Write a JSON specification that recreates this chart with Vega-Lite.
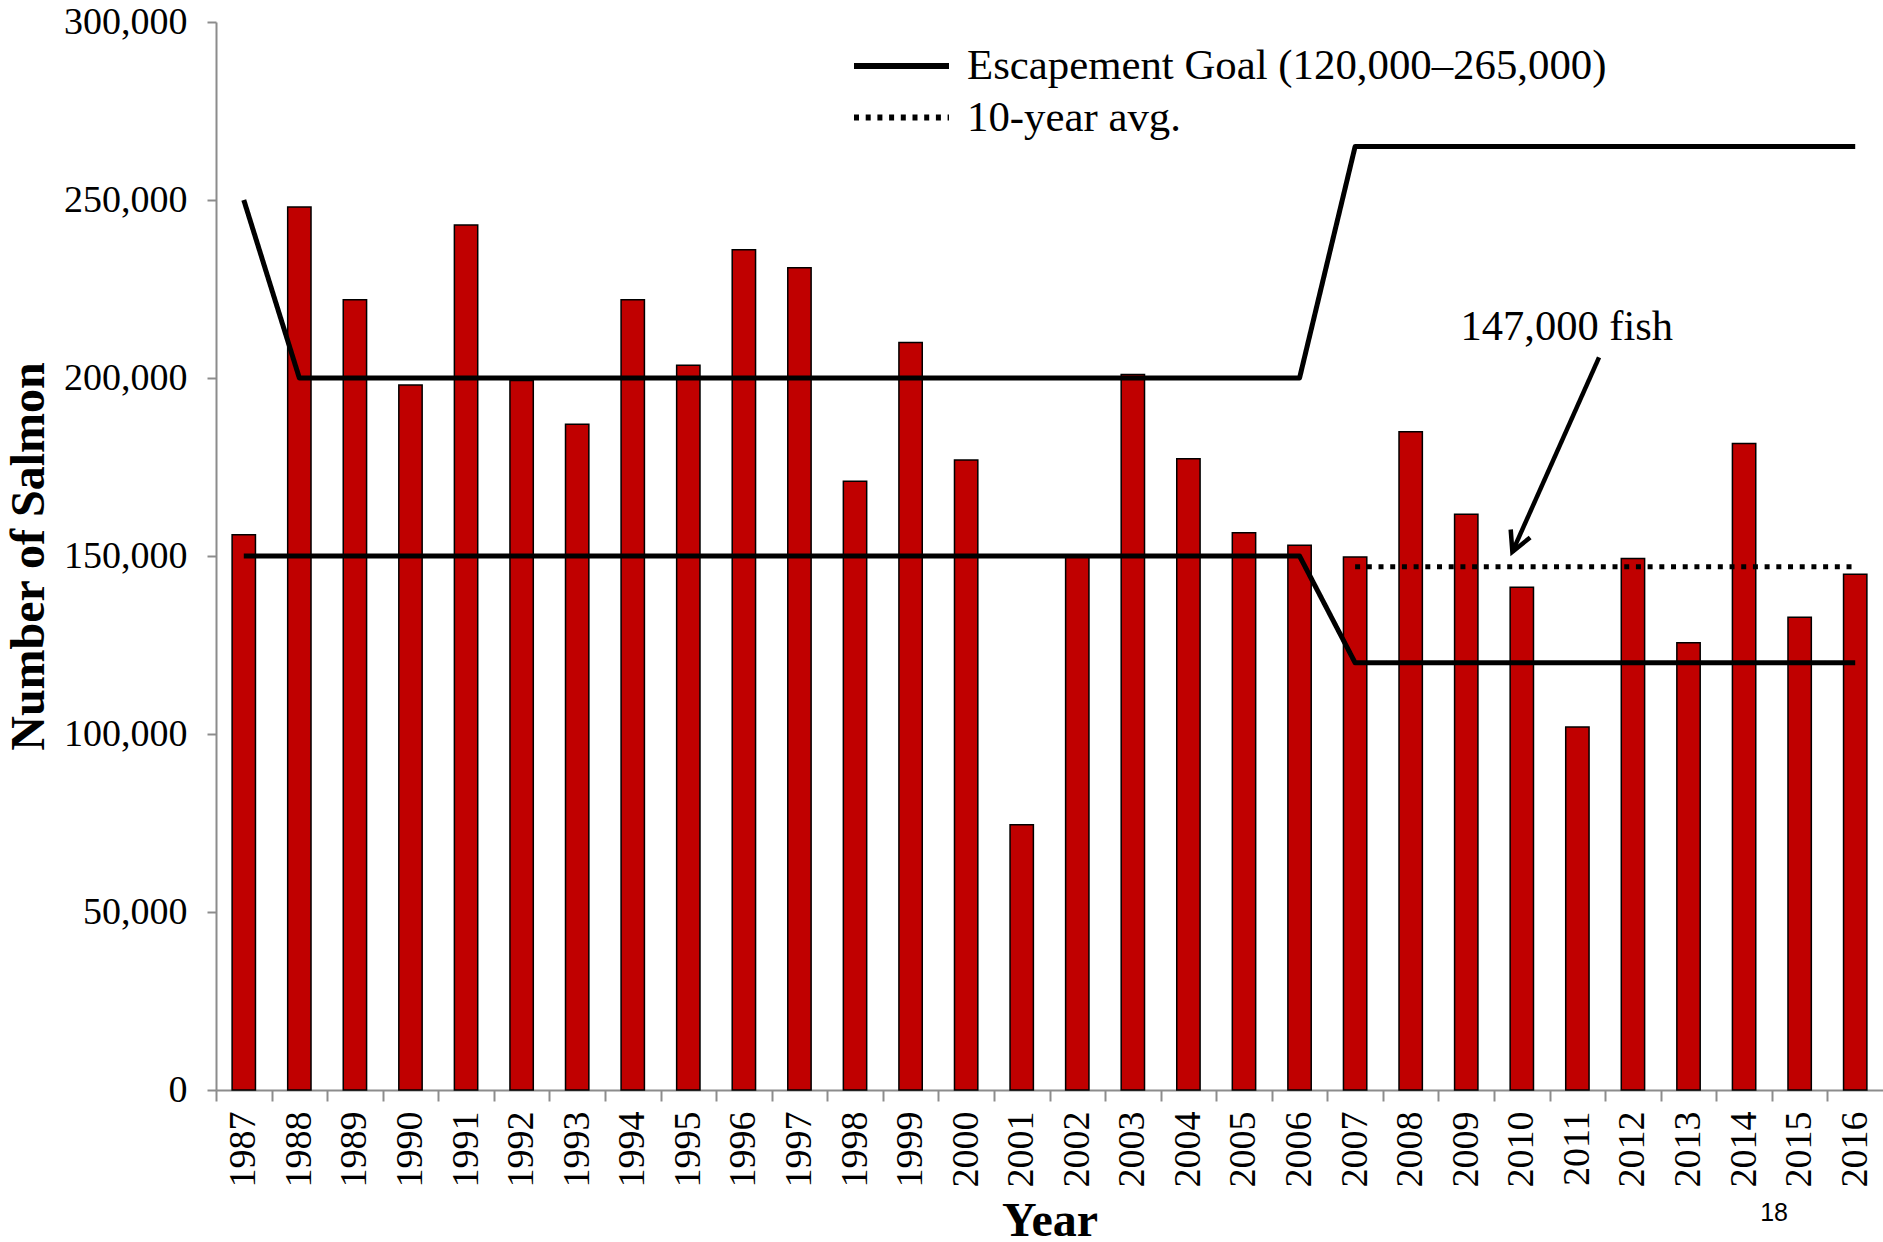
{
  "$schema": "https://vega.github.io/schema/vega-lite/v6.json",
  "width": 1667,
  "height": 1068,
  "autosize": {"type": "none"},
  "padding": {"left": 216, "top": 22, "right": 0, "bottom": 152},
  "background": "white",
  "config": {
    "view": {"stroke": null},
    "font": "Liberation Serif",
    "legend": {
      "orient": "none",
      "padding": 0,
      "symbolType": "stroke",
      "symbolSize": 9025,
      "symbolStrokeWidth": 6,
      "symbolStrokeColor": "black",
      "labelFont": "Liberation Serif",
      "labelFontSize": 42.8,
      "labelColor": "black",
      "labelOffset": 15,
      "labelLimit": 0
    }
  },
  "datasets": {
    "salmon": [
      {"year": 1987, "value": 156000},
      {"year": 1988, "value": 248000},
      {"year": 1989, "value": 222000},
      {"year": 1990, "value": 198000},
      {"year": 1991, "value": 243000},
      {"year": 1992, "value": 199300},
      {"year": 1993, "value": 187000},
      {"year": 1994, "value": 222000},
      {"year": 1995, "value": 203600},
      {"year": 1996, "value": 236000},
      {"year": 1997, "value": 231000},
      {"year": 1998, "value": 171000},
      {"year": 1999, "value": 210000},
      {"year": 2000, "value": 177000},
      {"year": 2001, "value": 74500},
      {"year": 2002, "value": 150000},
      {"year": 2003, "value": 201000},
      {"year": 2004, "value": 177300},
      {"year": 2005, "value": 156500},
      {"year": 2006, "value": 153000},
      {"year": 2007, "value": 149700},
      {"year": 2008, "value": 184900},
      {"year": 2009, "value": 161700},
      {"year": 2010, "value": 141200},
      {"year": 2011, "value": 102000},
      {"year": 2012, "value": 149300},
      {"year": 2013, "value": 125600},
      {"year": 2014, "value": 181600},
      {"year": 2015, "value": 132800},
      {"year": 2016, "value": 144900}
    ],
    "goals": [
      {"year": 1987, "value": 250000, "line": "upper", "series": "Escapement Goal (120,000–265,000)"},
      {"year": 1988, "value": 200000, "line": "upper", "series": "Escapement Goal (120,000–265,000)"},
      {"year": 2006, "value": 200000, "line": "upper", "series": "Escapement Goal (120,000–265,000)"},
      {"year": 2007, "value": 265000, "line": "upper", "series": "Escapement Goal (120,000–265,000)"},
      {"year": 2016, "value": 265000, "line": "upper", "series": "Escapement Goal (120,000–265,000)"},
      {"year": 1987, "value": 150000, "line": "lower", "series": "Escapement Goal (120,000–265,000)"},
      {"year": 2006, "value": 150000, "line": "lower", "series": "Escapement Goal (120,000–265,000)"},
      {"year": 2007, "value": 120000, "line": "lower", "series": "Escapement Goal (120,000–265,000)"},
      {"year": 2016, "value": 120000, "line": "lower", "series": "Escapement Goal (120,000–265,000)"}
    ],
    "average": [
      {"year": 2007, "value": 147000, "series": "10-year avg."},
      {"year": 2016, "value": 147000, "series": "10-year avg."}
    ],
    "arrow": [
      {"part": "shaft", "order": 0, "x": 2011.39, "value": 205800},
      {"part": "shaft", "order": 1, "x": 2009.83, "value": 151150},
      {"part": "head", "order": 0, "x": 2009.80, "value": 157450},
      {"part": "head", "order": 1, "x": 2009.83, "value": 151150},
      {"part": "head", "order": 2, "x": 2010.15, "value": 155200}
    ],
    "notes": [
      {"label": "147,000 fish", "x": 2010.81, "value": 214250}
    ],
    "page": [
      {"label": "18", "x": 2014.54, "value": -34500}
    ]
  },
  "layer": [
    {
      "data": {"name": "salmon"},
      "mark": {"type": "bar", "color": "#C00000", "stroke": "black", "strokeWidth": 1.5},
      "encoding": {
        "x": {
          "field": "year",
          "type": "ordinal",
          "scale": {"paddingInner": 0.58, "paddingOuter": 0.29},
          "axis": {
            "title": "Year",
            "titleFont": "Liberation Serif",
            "titleFontSize": 48,
            "titleFontWeight": "bold",
            "titleColor": "black",
            "titlePadding": 10,
            "labelAngle": 270,
            "labelFont": "Liberation Serif",
            "labelFontSize": 38,
            "labelColor": "black",
            "labelPadding": 10,
            "tickOffset": -27.78,
            "labelOffset": 27.78,
            "tickSize": 11,
            "tickColor": "#8c8c8c",
            "tickWidth": 2,
            "domainColor": "#8c8c8c",
            "domainWidth": 2,
            "grid": false
          }
        },
        "y": {
          "field": "value",
          "type": "quantitative",
          "title": "Number of Salmon",
          "scale": {"domain": [0, 300000], "nice": false},
          "axis": {
            "values": [0, 50000, 100000, 150000, 200000, 250000, 300000],
            "format": ",d",
            "grid": false,
            "labelFont": "Liberation Serif",
            "labelFontSize": 38,
            "labelColor": "black",
            "labelPadding": 20,
            "tickSize": 9,
            "tickColor": "#8c8c8c",
            "tickWidth": 2,
            "domainColor": "#8c8c8c",
            "domainWidth": 2,
            "titleFont": "Liberation Serif",
            "titleFontSize": 48,
            "titleFontWeight": "bold",
            "titleColor": "black",
            "titlePadding": 10
          }
        }
      }
    },
    {
      "data": {"name": "goals"},
      "mark": {"type": "line", "color": "black", "strokeWidth": 5, "strokeJoin": "round", "strokeCap": "butt"},
      "encoding": {
        "x": {"field": "year", "type": "quantitative", "scale": {"domain": [1986.5, 2016.5], "nice": false, "zero": false}, "axis": null},
        "y": {"field": "value", "type": "quantitative", "title": "Number of Salmon", "scale": {"domain": [0, 300000], "nice": false}},
        "detail": {"field": "line", "type": "nominal"},
        "strokeDash": {
          "field": "series",
          "type": "nominal",
          "scale": {"domain": ["Escapement Goal (120,000–265,000)"], "range": [[1, 0]]},
          "legend": {"title": null, "orient": "none", "legendX": 635, "legendY": -6.5}
        }
      }
    },
    {
      "data": {"name": "average"},
      "mark": {"type": "line", "color": "black", "strokeWidth": 5, "strokeCap": "butt"},
      "encoding": {
        "x": {"field": "year", "type": "quantitative", "scale": {"domain": [1986.5, 2016.5], "nice": false, "zero": false}, "axis": null},
        "y": {"field": "value", "type": "quantitative", "title": "Number of Salmon", "scale": {"domain": [0, 300000], "nice": false}},
        "strokeDash": {
          "field": "series",
          "type": "nominal",
          "scale": {"domain": ["10-year avg."], "range": [[5, 6.7]]},
          "legend": {"title": null, "orient": "none", "legendX": 635, "legendY": 45}
        }
      }
    },
    {
      "data": {"name": "arrow"},
      "mark": {"type": "line", "color": "black", "strokeWidth": 4.5, "strokeJoin": "miter", "strokeCap": "butt"},
      "encoding": {
        "x": {"field": "x", "type": "quantitative", "scale": {"domain": [1986.5, 2016.5], "nice": false, "zero": false}, "axis": null},
        "y": {"field": "value", "type": "quantitative", "title": "Number of Salmon", "scale": {"domain": [0, 300000], "nice": false}},
        "detail": {"field": "part", "type": "nominal"},
        "order": {"field": "order", "type": "quantitative"}
      }
    },
    {
      "data": {"name": "notes"},
      "mark": {"type": "text", "font": "Liberation Serif", "fontSize": 42.5, "color": "black", "align": "center", "baseline": "middle"},
      "encoding": {
        "x": {"field": "x", "type": "quantitative", "scale": {"domain": [1986.5, 2016.5], "nice": false, "zero": false}, "axis": null},
        "y": {"field": "value", "type": "quantitative", "title": "Number of Salmon", "scale": {"domain": [0, 300000], "nice": false}},
        "text": {"field": "label", "type": "nominal"}
      }
    },
    {
      "data": {"name": "page"},
      "mark": {"type": "text", "font": "Liberation Sans Narrow, Liberation Sans", "fontSize": 25, "color": "black", "align": "center", "baseline": "middle"},
      "encoding": {
        "x": {"field": "x", "type": "quantitative", "scale": {"domain": [1986.5, 2016.5], "nice": false, "zero": false}, "axis": null},
        "y": {"field": "value", "type": "quantitative", "title": "Number of Salmon", "scale": {"domain": [0, 300000], "nice": false}},
        "text": {"field": "label", "type": "nominal"}
      }
    }
  ],
  "resolve": {
    "scale": {"x": "independent", "strokeDash": "independent"},
    "legend": {"strokeDash": "independent"}
  }
}
